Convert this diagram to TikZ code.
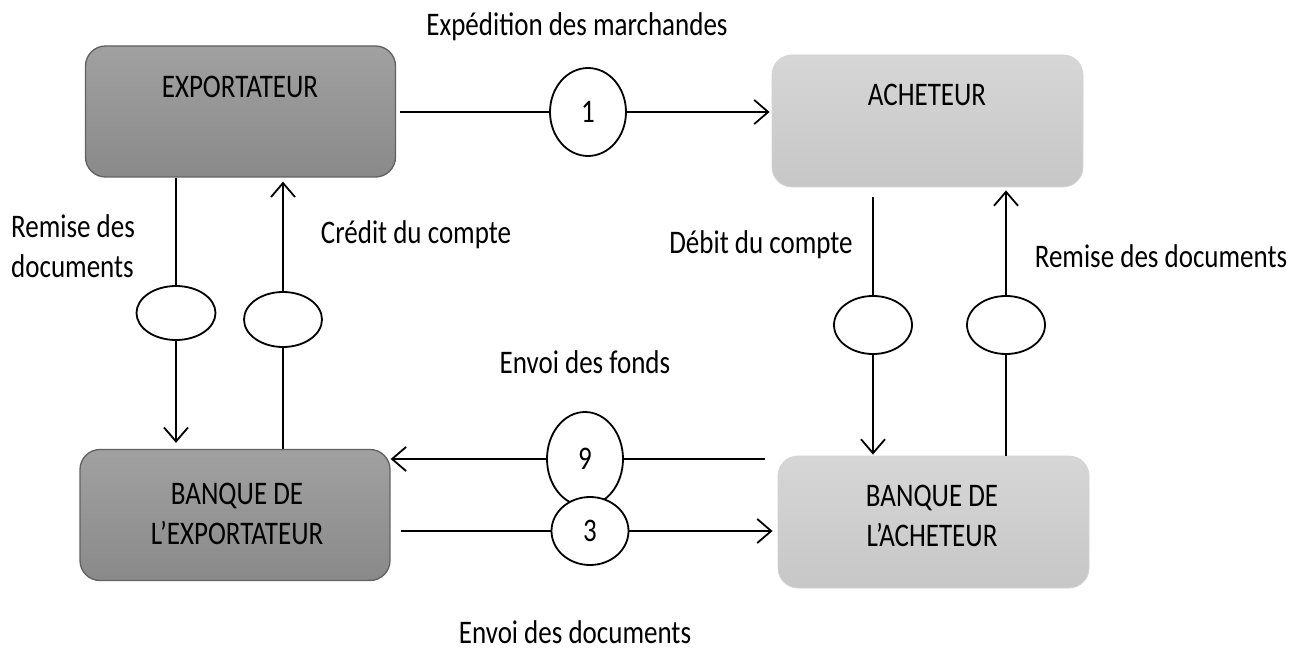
\documentclass[tikz,border=0pt]{standalone}
\usepackage{fontspec}
\setmainfont{Carlito}
\usetikzlibrary{arrows.meta,calc,shapes.geometric}
% text in this figure is drawn slightly taller than wide
\newcommand{\tall}[1]{\scalebox{1}[1.22]{#1}}

\begin{document}
\begin{tikzpicture}[x=1pt,y=-1pt,
  every node/.style={font=\fontsize{27}{40}\selectfont},
  darkbox/.style={draw=black!62, line width=1.3pt, rounded corners=20pt,
    top color=black!37, bottom color=black!46,
    minimum width=310pt, minimum height=131pt, inner sep=0pt},
  lightbox/.style={draw=black!17, line width=0.8pt, rounded corners=20pt,
    top color=black!16, bottom color=black!22,
    minimum width=311pt, minimum height=132pt, inner sep=0pt},
  oval/.style={ellipse, draw, line width=1.8pt, fill=white, inner sep=0pt},
  flow/.style={line width=1.8pt},
  arr/.style={flow, -{Straight Barb[length=14pt,width=24pt,line width=1.8pt]}},
  lbl/.style={inner sep=0pt, anchor=center}]

\useasboundingbox[fill=white] (0,0) rectangle (1312,652);

% parties
\node[darkbox]  (exp) at (240.5,111.5) {};
\node[lightbox] (ach) at (927.5,121) {};
\node[darkbox]  (bex) at (235,515) {};
\node[lightbox] (bac) at (933.5,522) {};

\node[lbl] (texp) at (240,87) {\tall{EXPORTATEUR}};
\node[lbl] (tach) at (927,95) {\tall{ACHETEUR}};
\node[lbl, align=center] (tbex) at (237,514) {\tall{BANQUE DE}\\\tall{L’EXPORTATEUR}};
\node[lbl, align=center] (tbac) at (932,516) {\tall{BANQUE DE}\\\tall{L’ACHETEUR}};

% step markers
\node[oval, minimum width=76pt, minimum height=88pt] (c1) at (588,112) {\tall{1}};
\node[oval, minimum width=76pt, minimum height=94pt] (c9) at (585,459) {\tall{9}};
\node[oval, minimum width=77pt, minimum height=68pt] (c3) at (590,531) {\tall{3}};
\node[oval, minimum width=79pt, minimum height=54pt] (e1) at (176,313) {};
\node[oval, minimum width=78pt, minimum height=55pt] (e2) at (283,319.5) {};
\node[oval, minimum width=78pt, minimum height=58pt] (e3) at (873,325) {};
\node[oval, minimum width=78pt, minimum height=58pt] (e4) at (1006,325) {};

% flow labels
\node[lbl] (l1) at (577,27) {\tall{Expédition des marchandes}};
\node[lbl, align=left, anchor=west] (l2) at (11,246) {\tall{Remise des}\\\tall{documents}};
\node[lbl] (l3) at (416,235) {\tall{Crédit du compte}};
\node[lbl] (l4) at (761,245) {\tall{Débit du compte}};
\node[lbl] (l5) at (1161,256) {\tall{Remise des documents}};
\node[lbl] (l6) at (585,362) {\tall{Envoi des fonds}};
\node[lbl] (l7) at (575,632) {\tall{Envoi des documents}};

% shipment of goods
\draw[flow, shorten <=4pt] (exp.east |- c1) -- (c1.west);
\draw[arr, shorten >=2pt] (c1.east) -- (c1 -| ach.west);

% exporter side
\draw[flow] (e1 |- exp.south) -- (e1.north);
\draw[arr, shorten >=6pt] (e1.south) -- (e1 |- bex.north);
\draw[flow] (e2 |- bex.north) -- (e2.south);
\draw[arr, shorten >=4pt] (e2.north) -- (e2 |- exp.south);

% buyer side
\draw[flow, shorten <=10pt] (e3 |- ach.south) -- (e3.north);
\draw[arr, shorten >=1pt] (e3.south) -- (e3 |- bac.north);
\draw[flow] (e4 |- bac.north) -- (e4.south);
\draw[arr, shorten >=3pt] (e4.north) -- (e4 |- ach.south);

% between the banks
\coordinate (s9) at (765,459);
\draw[flow] (s9) -- (c9.east);
\draw[arr] (c9.west) -- (c9 -| bex.east);
\draw[flow, shorten <=10pt] (bex.east |- c3) -- (c3.west);
\draw[arr, shorten >=5pt] (c3.east) -- (c3 -| bac.west);
\end{tikzpicture}
\end{document}
